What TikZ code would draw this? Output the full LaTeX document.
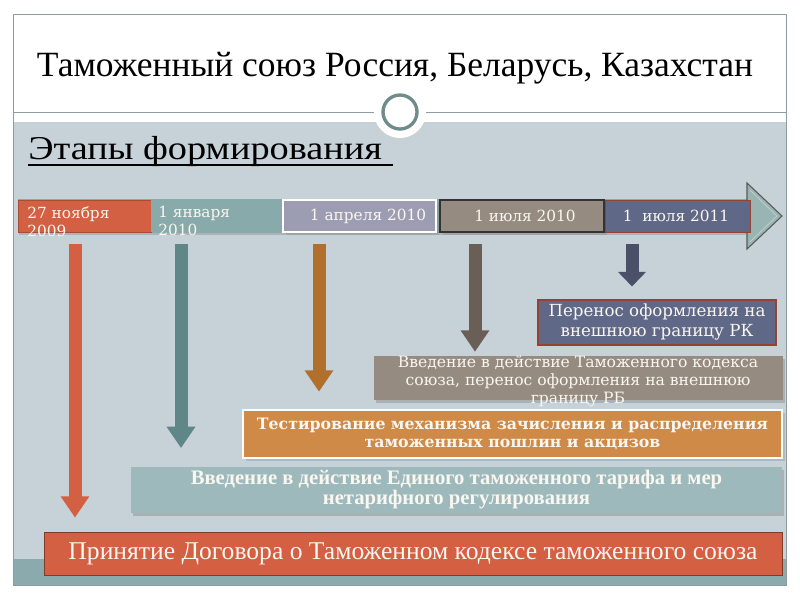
\documentclass[tikz,border=0pt]{standalone}
\usepackage{fontspec}
\setmainfont{Liberation Serif}
\newfontfamily\slabfont{DejaVu Serif}
\usetikzlibrary{arrows.meta,shadows}

\definecolor{slidebg}{RGB}{198,209,216}
\definecolor{stripbg}{RGB}{138,170,173}
\definecolor{framegray}{RGB}{140,156,159}
\definecolor{ringgray}{RGB}{111,140,140}
\definecolor{redseg}{RGB}{211,96,66}
\definecolor{tealseg}{RGB}{136,170,170}
\definecolor{lilacseg}{RGB}{156,157,179}
\definecolor{brownseg}{RGB}{150,139,128}
\definecolor{slateseg}{RGB}{95,104,134}
\definecolor{headfill}{RGB}{153,181,179}
\definecolor{tealarr}{RGB}{95,135,135}
\definecolor{orangearr}{RGB}{176,112,44}
\definecolor{brownarr}{RGB}{107,94,87}
\definecolor{slatearr}{RGB}{74,80,104}
\definecolor{orangebox}{RGB}{208,138,71}
\definecolor{lteal}{RGB}{157,185,188}
\definecolor{offwhite}{RGB}{250,246,240}

\begin{document}
\begin{tikzpicture}[x=0.75pt,y=0.75pt,yscale=-1,xscale=1,
  segm/.style={inner sep=0pt,minimum height=24pt},
  datetxt/.style={font=\slabfont\fontsize{11.5}{13.5}\selectfont,text=offwhite,inner sep=0pt},
  stagebox/.style={inner sep=0pt,minimum height=#1},
  stagetxt/.style={align=center,text=offwhite,inner sep=0pt},
  downarr/.style={line width=9.75pt,-{Triangle[width=20.5pt,length=#1]}},
  downarr/.default=16pt]
\useasboundingbox (0,0) rectangle (800,600);

%Shape: Slide background
\fill[white] (0,0) rectangle (800,600);
\fill[slidebg] (13,122) rectangle (786,559);
\fill[stripbg] (13,559) rectangle (786,585);
\draw[framegray] (13,14) rectangle (786,585);
\draw[framegray] (13,112) -- (786,112);
%Shape: Circle
\fill[white] (400,112) circle (26);
\draw[ringgray,line width=2.5pt,fill=white] (400,112) circle (17);

% Text Node
\node[font=\fontsize{26.6}{30}\selectfont] (title) at (395,68) {Таможенный союз Россия, Беларусь, Казахстан};
% Text Node
\node[font=\fontsize{25}{28}\selectfont,anchor=west,inner sep=0pt] (stages) at (28,151) {\scalebox{1.15}[1]{Этапы формирования}};
\draw[line width=1.5pt] (28,165) -- (393,165);

%Shape: Timeline arrow
\fill[tealseg,drop shadow={shadow xshift=1pt,shadow yshift=-1.5pt,opacity=0.35}] (18,199) rectangle (750,233);
\draw[gray!70!black,fill=headfill,line width=0.8pt] (747,183) -- (782,216) -- (747,249) -- cycle;
\draw[headfill!60!white,line width=0.5pt] (750,190) -- (777,216) -- (750,242);

%Shape: Segments
\node[segm,fill=redseg,draw=redseg!80!black,minimum width=99.75pt] (s1) at (84.5,216) {};
\node[segm,fill=tealseg,minimum width=97.5pt] (s2) at (216,216) {};
\node[segm,fill=lilacseg,draw=white,line width=1.5pt,minimum width=115pt,drop shadow={opacity=0.3}] (s3) at (359.5,216) {};
\node[segm,fill=brownseg,draw=black!80,line width=0.8pt,minimum width=123pt,drop shadow={opacity=0.3}] (s4) at (522,216) {};
\node[segm,fill=slateseg,draw=redseg!70!black,line width=0.5pt,minimum width=108.75pt] (s5) at (677.5,216) {};

% Text Node
\node[datetxt,anchor=north west,align=left] (d1) at (27,206) {27 ноября\\2009};
\node[datetxt,anchor=north west,align=left] (d2) at (158,206) {1 января\\2010};
\node[datetxt] (d3) at (368,216) {1 апреля 2010};
\node[datetxt] (d4) at (525,216) {1 июля 2010};
\node[datetxt] (d5) at (676,216) {1\ \ июля 2011};

%Shape: Stage boxes
\node[stagebox=33.75pt,fill=slateseg,draw=redseg!70!black,line width=0.8pt,minimum width=178.5pt] (b1) at (657,322.5) {};
\node[stagebox=33pt,fill=brownseg,minimum width=306.75pt,drop shadow={shadow xshift=1.5pt,shadow yshift=-2pt,opacity=0.4}] (b2) at (578.5,378) {};
\node[stagebox=36pt,fill=orangebox,draw=white,line width=1.5pt,minimum width=404.25pt,drop shadow={opacity=0.3}] (b3) at (512.5,434) {};
\node[stagebox=34.5pt,fill=lteal,minimum width=488.25pt,drop shadow={shadow xshift=1.5pt,shadow yshift=-2pt,opacity=0.4}] (b4) at (456.5,490) {};
\node[stagebox=32.25pt,fill=redseg,draw=redseg!60!black,line width=0.6pt,minimum width=553.5pt] (b5) at (413,553.5) {};

% Text Node
\node[stagetxt,font=\slabfont\fontsize{12.5}{15}\selectfont] (t1) at (b1) {Перенос оформления на\\внешнюю границу РК};
\node[stagetxt,font=\slabfont\fontsize{11.7}{13.5}\selectfont] (t2) at (578,381) {Введение в действие Таможенного кодекса\\союза, перенос оформления на внешнюю\\границу РБ};
\node[stagetxt,font=\slabfont\bfseries\fontsize{11.8}{14}\selectfont] (t3) at (b3) {Тестирование механизма зачисления и распределения\\таможенных пошлин и акцизов};
\node[stagetxt,font=\bfseries\fontsize{15.5}{14}\selectfont] (t4) at (b4) {Введение в действие Единого таможенного тарифа и мер\\нетарифного регулирования};
\node[stagetxt,font=\fontsize{19.2}{20}\selectfont] (t5) at (b5) {Принятие Договора о Таможенном кодексе таможенного союза};

%Straight Lines: stage arrows
\coordinate (a1) at (75,244);
\coordinate (a2) at (181,244);
\coordinate (a3) at (319,244);
\coordinate (a4) at (475,244);
\coordinate (a5) at (632,244);
\draw[downarr,draw=redseg,shorten >=10.5pt] (a1) -- (a1 |- b5.north);
\draw[downarr,draw=tealarr,shorten >=14pt] (a2) -- (a2 |- b4.north);
\draw[downarr,draw=orangearr,shorten >=13pt] (a3) -- (a3 |- b3.north);
\draw[downarr,draw=brownarr,shorten >=3pt] (a4) -- (a4 |- b2.north);
\draw[downarr=11pt,draw=slatearr,shorten >=9.75pt] (a5) -- (a5 |- b1.north);

\end{tikzpicture}
\end{document}
